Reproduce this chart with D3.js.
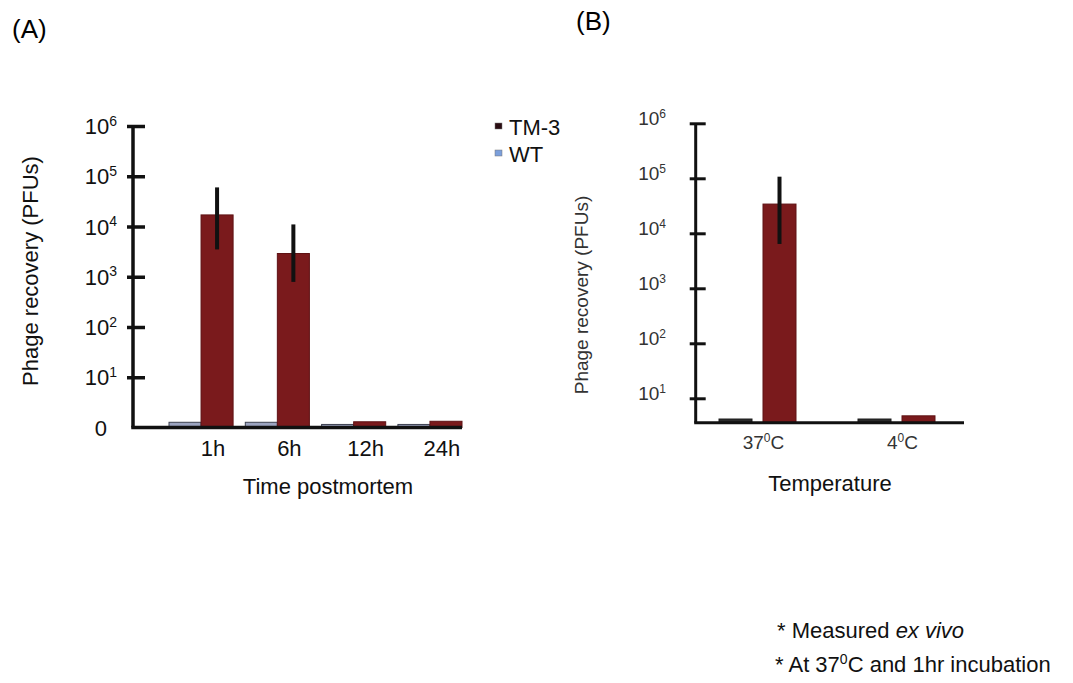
<!DOCTYPE html>
<html>
<head>
<meta charset="utf-8">
<script src="https://cdn.jsdelivr.net/npm/d3@7"></script>
<style>
  body { margin: 0; background: #fff; }
  text { font-family: "Liberation Sans", Arial, sans-serif; }
</style>
</head>
<body>
<svg id="chart" width="1073" height="683"></svg>
<script>
// ---- panel A : time postmortem ----
var times = ["1h", "6h", "12h", "24h"];
var series = ["WT", "TM-3"];
var wtA = [1.27, 1.27, 1.15, 1.15];
var tmA = [17000, 2900, 1.3, 1.33];
var tmAErrLo = [3500, 790, null, null];
var tmAErrHi = [60000, 11000, null, null];
var yTicksA = [1, 10, 100, 1e3, 1e4, 1e5, 1e6];

// ---- panel B : temperature ----
var temps = ["37", "4"];
var wtB = [4.2, 4.2];
var tmB = [34000, 4.8];
var tmBErrLo = [6400, null];
var tmBErrHi = [107000, null];
var yTicksB = [10, 100, 1e3, 1e4, 1e5, 1e6];
var yFloorB = 3.6;   // bottom of the B axis sits a bit above 10^0

var notes = ["Measured ", "ex vivo"];

var red = "#7a1a1c",
    redEdge = "#5e1214";

var svg = d3.select("#chart");

function supLabel(sel, base, exp, size) {
  sel.append("tspan").text(base);
  sel.append("tspan")
    .attr("font-size", Math.round(size * 0.62))
    .attr("dy", -size * 0.38)
    .text(exp);
}

function panel(o) {
  var g = svg.append("g");

  var x = d3.scaleBand().domain(o.cats).range(o.xRange).paddingInner(o.groupPad);
  var xi = d3.scaleBand().domain(series).range([0, x.bandwidth()]).paddingInner(o.barPad);
  var y = d3.scaleLog().domain(o.yDomain).range(o.yRange);

  // bars
  o.cats.forEach(function(c, i) {
    var vals = {"WT": o.wt[i], "TM-3": o.tm[i]};
    series.forEach(function(s) {
      g.append("rect")
        .attr("x", x(c) + xi(s))
        .attr("y", y(vals[s]))
        .attr("width", xi.bandwidth())
        .attr("height", y.range()[0] - y(vals[s]))
        .attr("fill", s == "WT" ? o.wtFill : red)
        .attr("stroke", s == "WT" ? o.wtEdge : redEdge)
        .attr("stroke-width", 1);
    });
    if (o.lo[i] != null) {
      var cx = x(c) + xi("TM-3") + xi.bandwidth() / 2;
      g.append("line")
        .attr("x1", cx).attr("x2", cx)
        .attr("y1", y(o.hi[i])).attr("y2", y(o.lo[i]))
        .attr("stroke", "#111").attr("stroke-width", 4);
    }
  });

  // y axis, ticks crossing the line
  var ax = g.append("g")
    .attr("transform", "translate(" + o.axisX + ",0)")
    .call(d3.axisLeft(y).tickValues(o.ticks.filter(function(d) { return d >= 10; }))
      .tickFormat("").tickSizeOuter(0));
  ax.select(".domain").remove();
  ax.selectAll(".tick line")
    .attr("x1", o.tickR).attr("x2", -o.tickL)
    .attr("stroke", "#111").attr("stroke-width", o.lw);
  g.append("line")
    .attr("x1", o.axisX).attr("x2", o.axisX)
    .attr("y1", y(o.yDomain[1])).attr("y2", y.range()[0])
    .attr("stroke", "#111").attr("stroke-width", o.lw);
  g.append("line")
    .attr("x1", o.axisX - o.lw / 2).attr("x2", o.xEnd)
    .attr("y1", y.range()[0]).attr("y2", y.range()[0])
    .attr("stroke", "#111").attr("stroke-width", o.lw);

  // y tick labels as 10^n
  o.ticks.forEach(function(d) {
    var n = Math.round(Math.log10(d));
    var t = g.append("text")
      .attr("x", o.labelX)
      .attr("y", y(d) + o.labelDy)
      .attr("text-anchor", "end")
      .attr("font-size", o.tickSize)
      .attr("fill", o.ink);
    if (n == 0) t.attr("x", o.labelX - 10).text("0");
    else supLabel(t, "10", n, o.tickSize);
  });

  // x tick labels
  o.cats.forEach(function(c) {
    var t = g.append("text")
      .attr("x", x(c) + o.catShift(x, xi, c))
      .attr("y", o.catY)
      .attr("text-anchor", "middle")
      .attr("font-size", o.tickSize)
      .attr("fill", o.ink);
    if (o.degree) {
      supLabel(t, c, "0", o.tickSize);
      t.append("tspan").attr("dy", o.tickSize * 0.38).text("C");
    } else {
      t.text(c);
    }
  });

  // axis titles
  g.append("text")
    .attr("x", o.xTitleX).attr("y", o.xTitleY)
    .attr("text-anchor", "middle")
    .attr("font-size", 22).attr("fill", "#111")
    .text(o.xTitle);
  g.append("text")
    .attr("transform", "translate(" + o.yTitleX + "," + o.yTitleY + ") rotate(-90)")
    .attr("text-anchor", "middle")
    .attr("font-size", o.yTitleSize).attr("fill", o.ink)
    .text("Phage recovery (PFUs)");
}

panel({
  cats: times, wt: wtA, tm: tmA, lo: tmAErrLo, hi: tmAErrHi,
  xRange: [169, 462], groupPad: 0.16, barPad: 0,
  yDomain: [1, 1e6], yRange: [427.5, 126], ticks: yTicksA,
  axisX: 133, xEnd: 462, tickL: 6, tickR: 12, lw: 3.5,
  labelX: 117, labelDy: 8, tickSize: 22, ink: "#111",
  wtFill: "#9ca4c0", wtEdge: "#3c4150",
  catShift: function(x, xi, c) { return xi("TM-3") + xi.bandwidth() / 2 - 4; },
  catY: 456, degree: false,
  xTitle: "Time postmortem", xTitleX: 328, xTitleY: 494,
  yTitleX: 38, yTitleY: 271, yTitleSize: 22
});

panel({
  cats: temps, wt: wtB, tm: tmB, lo: tmBErrLo, hi: tmBErrHi,
  xRange: [719, 935], groupPad: 0.446, barPad: 0.25,
  yDomain: [yFloorB, 1e6], yRange: [422.7, 123.3], ticks: yTicksB,
  axisX: 695.7, xEnd: 964, tickL: 6, tickR: 10, lw: 3,
  labelX: 666, labelDy: 2, tickSize: 19, ink: "#333",
  wtFill: "#2b2b2b", wtEdge: "#1a1a1a",
  catShift: function(x, xi, c) { return x.bandwidth() / 2 + 6; },
  catY: 449, degree: true,
  xTitle: "Temperature", xTitleX: 830, xTitleY: 491,
  yTitleX: 588, yTitleY: 295, yTitleSize: 19
});

// legend (panel A)
var legend = [
  {name: "TM-3", fill: "#2a0c12", y: 123},
  {name: "WT", fill: "#7b9fdb", y: 150}
];
legend.forEach(function(d) {
  svg.append("rect")
    .attr("x", 495).attr("y", d.y).attr("width", 7).attr("height", 6)
    .attr("fill", d.fill).attr("stroke", "#777").attr("stroke-width", 0.5);
  svg.append("text")
    .attr("x", 509).attr("y", d.y + 12)
    .attr("font-size", 22).attr("fill", "#111")
    .text(d.name);
});

// panel letters
svg.append("text").attr("x", 12).attr("y", 38).attr("font-size", 26).text("(A)");
svg.append("text").attr("x", 576).attr("y", 30).attr("font-size", 26).text("(B)");

// footnotes
var n1 = svg.append("text").attr("x", 777).attr("y", 638).attr("font-size", 22).attr("fill", "#111");
n1.append("tspan").text("* " + notes[0]);
n1.append("tspan").attr("font-style", "italic").text(notes[1]);

var n2 = svg.append("text").attr("x", 775).attr("y", 672).attr("font-size", 22).attr("fill", "#111");
supLabel(n2, "* At 37", "0", 22);
n2.append("tspan").attr("dy", 22 * 0.38).text("C and 1hr incubation");
</script>
</body>
</html>
